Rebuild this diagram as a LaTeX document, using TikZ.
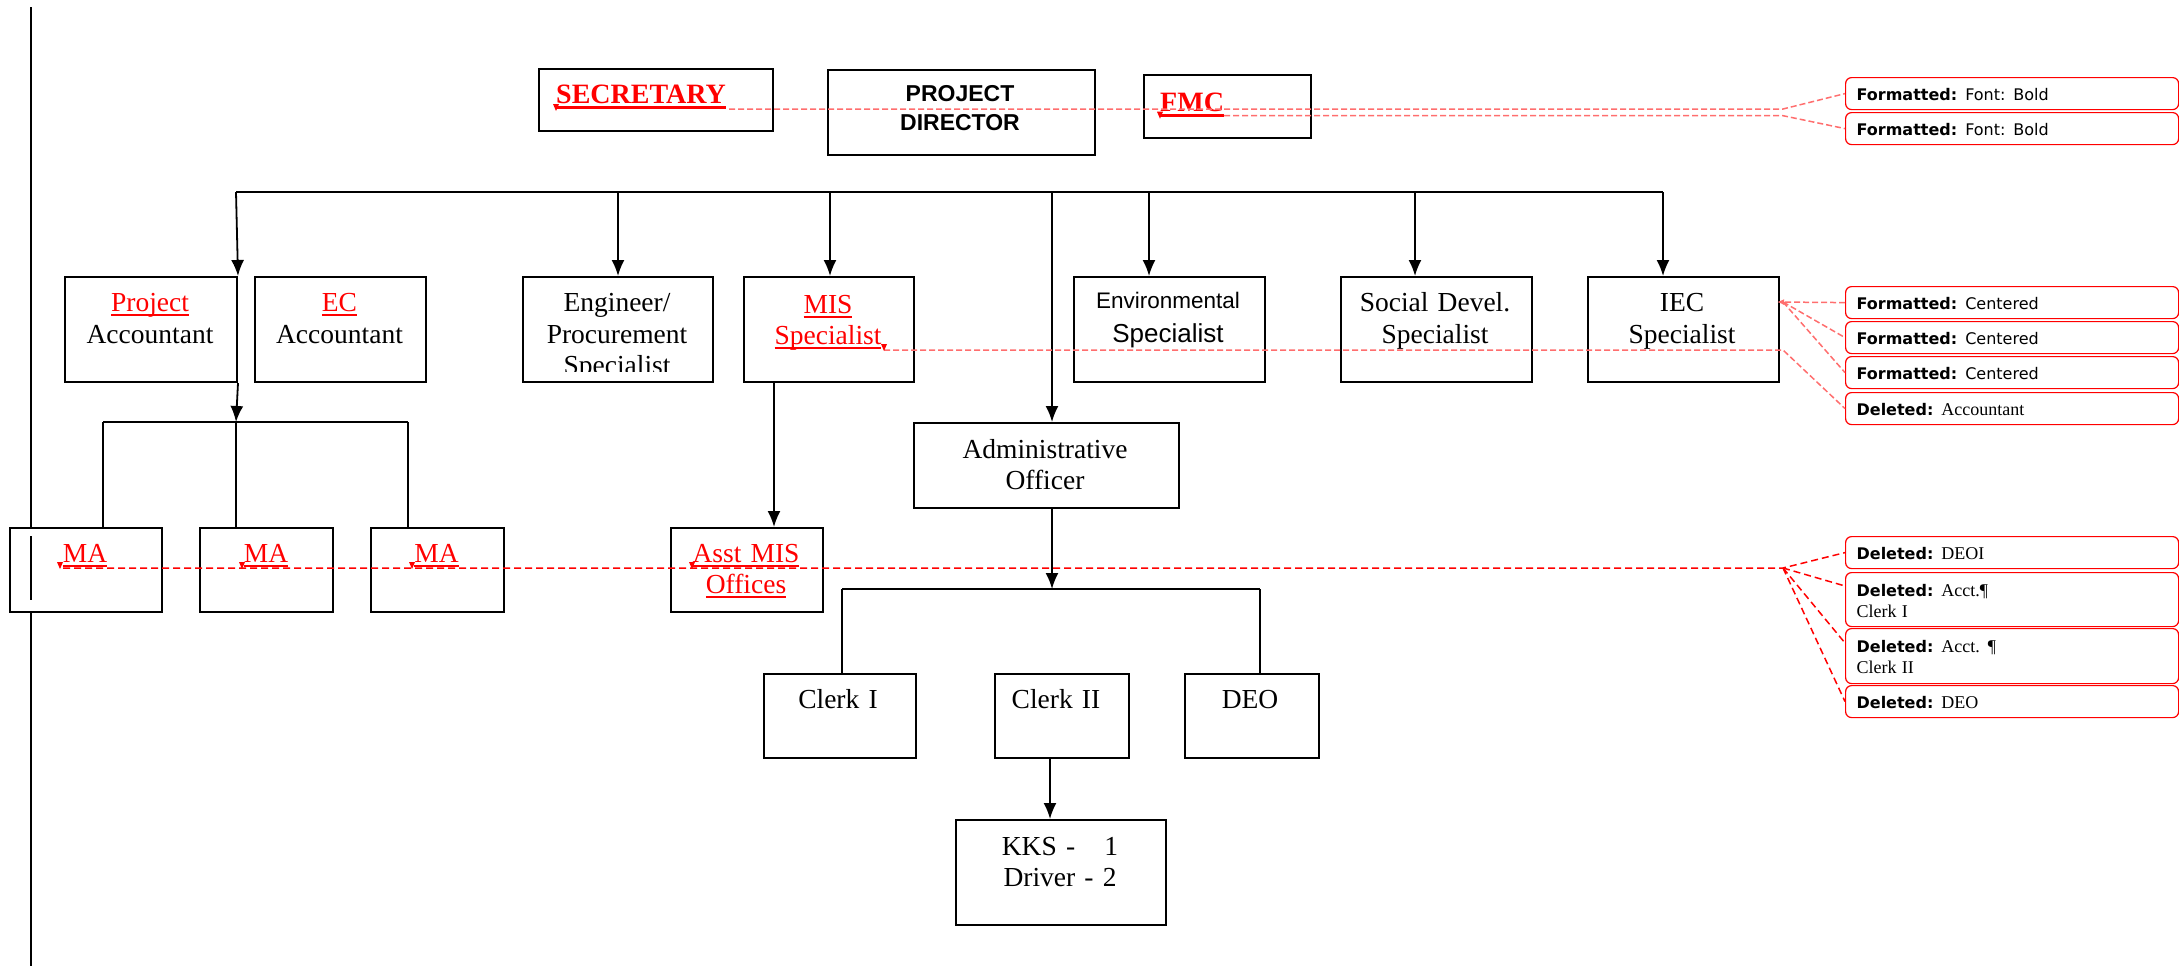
\documentclass[tikz,border=0pt]{standalone}
\usepackage{fontspec}
\setmainfont{Liberation Serif}
\setsansfont{Liberation Sans}
\newfontfamily\notefont{DejaVu Sans}
\newcommand\uln[2][2pt]{\leavevmode\setbox0\hbox{#2}\rlap{\vrule width\wd0 height -2.5pt depth \dimexpr2.5pt+#1\relax}\box0}
\usetikzlibrary{arrows.meta,calc}
\definecolor{trackpink}{RGB}{255,110,110}
\tikzset{
  box/.style={draw, line width=2pt, fill=white, inner sep=0pt, anchor=north west},
  note/.style={draw=red, line width=1.2pt, rounded corners=6pt, fill=white, anchor=north west,
    minimum width=333, minimum height=32, text width=311pt, align=left, inner xsep=11pt, inner ysep=0pt,
    text height=15pt, text depth=1pt, font=\notefont\fontsize{16}{21}\selectfont},
  txt/.style={anchor=base, text width=260pt, align=center, inner sep=0pt, font=\fontsize{27.5}{31.5}\selectfont},
  toptxt/.style={anchor=base west, inner sep=0pt, text=red, font=\bfseries\fontsize{28}{31}\selectfont},
  conn/.style={line width=1.8pt},
  arr/.style={line width=1.8pt, -{Latex[length=16pt,width=13pt]}},
  trk/.style={trackpink, line width=1.5pt, dash pattern=on 6pt off 3pt},
  del/.style={red, line width=1.5pt, dash pattern=on 7pt off 4pt},
}
\newcommand\serifpart[1]{{\rmfamily\fontsize{18}{21}\selectfont #1}}
\begin{document}
\begin{tikzpicture}[x=1pt,y=-1pt]
\useasboundingbox (0,0) rectangle (2179,969);
\draw[line width=1.6pt] (31,7) -- (31,966);

\node[box, minimum width=234, minimum height=62] (sec) at (538,68) {};
\node[box, minimum width=267, minimum height=85] (pd) at (827,69) {};
\node[box, minimum width=167, minimum height=63] (fmc) at (1143,74) {};
\node[box, minimum width=172, minimum height=105] (pacc) at (64,276) {};
\node[box, minimum width=171, minimum height=105] (ecacc) at (254,276) {};
\node[box, minimum width=190, minimum height=105] (eng) at (522,276) {};
\node[box, minimum width=170, minimum height=105] (mis) at (743,276) {};
\node[box, minimum width=191, minimum height=105] (env) at (1073,276) {};
\node[box, minimum width=191, minimum height=105] (soc) at (1340,276) {};
\node[box, minimum width=191, minimum height=105] (iec) at (1587,276) {};
\node[box, minimum width=265, minimum height=85] (adm) at (913,422) {};
\node[box, minimum width=152, minimum height=84] (ma1) at (9,527) {};
\node[box, minimum width=133, minimum height=84] (ma2) at (199,527) {};
\node[box, minimum width=133, minimum height=84] (ma3) at (370,527) {};
\node[box, minimum width=152, minimum height=84] (asst) at (670,527) {};
\node[box, minimum width=152, minimum height=84] (clk1) at (763,673) {};
\node[box, minimum width=134, minimum height=84] (clk2) at (994,673) {};
\node[box, minimum width=134, minimum height=84] (deo) at (1184,673) {};
\node[box, minimum width=210, minimum height=105] (kks) at (955,819) {};
\draw[line width=1.6pt] (31,536) -- (31,600);

\node[toptxt] (sec-t) at (556,103) {\uln[3pt]{SECRETARY}};
\node[toptxt] (fmc-t) at (1160,111.7) {\uln[3pt]{FMC}};
\node[txt, font=\sffamily\bfseries\fontsize{23}{28.3}\selectfont] (pd-t) at (960,101.7) {PROJECT\\DIRECTOR};
\node[txt] (pacc-t) at (150,311.7) {\textcolor{red}{\uln{Project}}\\Accountant};
\node[txt] (ecacc-t) at (339.5,311.7) {\textcolor{red}{\uln{EC}}\\Accountant};
\begin{scope}
  \clip (522,276) rectangle (712,371);
  \node[txt] (eng-t) at (617,311.7) {Engineer/\\Procurement\\Specialist};
\end{scope}
\node[txt, text=red] (mis-t) at (828,313) {\uln{MIS}\\\uln{Specialist}};
\node[txt, font=\sffamily\fontsize{22.5}{34}\selectfont] (env-t) at (1168,308) {Environmental\\{\fontsize{26}{34}\selectfont Specialist}};
\node[txt] (soc-t) at (1435,311.7) {Social Devel.\\Specialist};
\node[txt] (iec-t) at (1682,311.7) {IEC\\Specialist};
\node[txt] (adm-t) at (1045,458) {Administrative\\Officer};
\node[txt, text=red] (ma1-t) at (85,562) {\uln{MA}};
\node[txt, text=red] (ma2-t) at (266,562) {\uln{MA}};
\node[txt, text=red] (ma3-t) at (436.5,562) {\uln{MA}};
\node[txt, text=red] (asst-t) at (746,562) {\uln{Asst MIS}\\\uln{Offices}};
\node[txt] (clk1-t) at (838,708) {Clerk I};
\node[txt] (clk2-t) at (1056,708) {Clerk II};
\node[txt] (deo-t) at (1250,708) {DEO};
\node[txt] (kks-t) at (1060,855) {KKS -\hspace{20pt} 1\\Driver - 2};

\coordinate (tb-l) at (236,192);
\coordinate (tb-r) at (1663,192);
\coordinate (tb-mis) at (830,192);
\coordinate (tb-adm) at (1052,192);
\coordinate (tb-env) at (1149,192);
\coordinate (tb-soc) at (1415,192);
\draw[conn] (tb-l) -- (tb-r);
\draw[arr] (tb-l) -- (pacc.north east);
\draw[arr] (tb-l -| eng.north) -- (eng.north);
\draw[arr] (tb-mis) -- (tb-mis |- mis.north);
\draw[arr] (tb-adm) -- (tb-adm |- adm.north);
\draw[arr] (tb-env) -- (tb-env |- env.north);
\draw[arr] (tb-soc) -- (tb-soc |- soc.north);
\draw[arr] (tb-r) -- (tb-r |- iec.north);

\coordinate (mb) at (236,422);
\coordinate (mb-l) at (103,422);
\coordinate (mb-r) at (408,422);
\draw[arr] (pacc.south east) -- (mb);
\draw[conn] (mb-l) -- (mb-r);
\draw[conn] (mb-l) -- (mb-l |- ma1.north);
\draw[conn] (mb) -- (mb |- ma2.north);
\draw[conn] (mb-r) -- (mb-r |- ma3.north);

\coordinate (mis-d) at (774,381);
\draw[arr] (mis-d) -- (mis-d |- asst.north);

\coordinate (cb) at (1052,589);
\coordinate (cb-l) at (842,589);
\coordinate (cb-r) at (1260,589);
\draw[arr] (cb |- adm.south) -- (cb);
\draw[conn] (cb-l) -- (cb-r);
\draw[conn] (cb-l) -- (cb-l |- clk1.north);
\draw[conn] (cb-r) -- (cb-r |- deo.north);
\coordinate (k) at (1050,757);
\draw[arr] (k) -- (k |- kks.north);

\node[note] (fb1) at (1845,77) {\textbf{Formatted:} Font: Bold};
\node[note] (fb2) at (1845,112) {\textbf{Formatted:} Font: Bold};
\node[note] (fc1) at (1845,286) {\textbf{Formatted:} Centered};
\node[note] (fc2) at (1845,321) {\textbf{Formatted:} Centered};
\node[note] (fc3) at (1845,356) {\textbf{Formatted:} Centered};
\node[note] (dacc) at (1845,392) {\textbf{Deleted:} \serifpart{Accountant}};
\node[note] (ddeoi) at (1845,536) {\textbf{Deleted:} \serifpart{DEOI}};
\node[note, minimum height=54, text depth=22pt] (dclk1) at (1845,572) {\textbf{Deleted:} \serifpart{Acct.¶}\\\serifpart{Clerk I}};
\node[note, minimum height=55, text depth=22pt] (dclk2) at (1845,628) {\textbf{Deleted:} \serifpart{Acct. ¶}\\\serifpart{Clerk II}};
\node[note] (ddeo) at (1845,685) {\textbf{Deleted:} \serifpart{DEO}};

\coordinate (iec-m) at (1777,302);
\draw[trk] (729,109) -- (1783,109) -- (fb1.west);
\draw[trk] (1224,115.7) -- (1783,115.7) -- (fb2.west);
\draw[trk, -{Latex[length=7pt,width=6pt]}] (fc1.west) -- (iec-m);
\draw[trk] (1783,302) -- (fc2.west);
\draw[trk] (1783,302) -- (fc3.west);
\draw[trk] (884,350) -- (1783,350) -- (dacc.west);
\draw[del] (63,568) -- (1783,568) -- (ddeoi.west);
\draw[del] (1783,568) -- ($(dclk1.north west)+(0,14)$);
\draw[del] (1783,568) -- ($(dclk2.north west)+(0,15)$);
\draw[del] (1783,568) -- (ddeo.west);
\foreach \p in {(556,108),(1160,115.7),(60,566),(242,566),(412,566),(692,566),(884,348)}
  \fill[red] \p ++(-3,-4) -- ++(6,0) -- ++(-3,7) -- cycle;
\end{tikzpicture}
\end{document}
